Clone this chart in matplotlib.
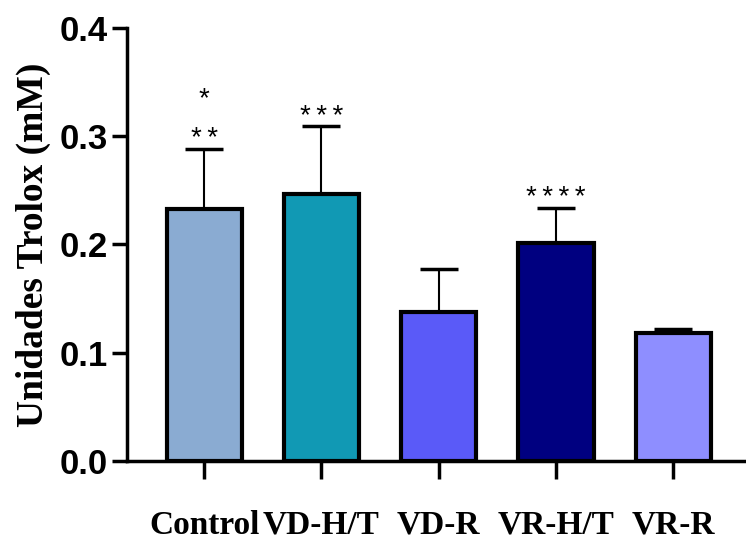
import matplotlib.pyplot as plt

# Datos
grupos = ['Control', 'VD-H/T', 'VD-R', 'VR-H/T', 'VR-R']
medias = [0.233, 0.247, 0.138, 0.201, 0.118]
errores = [0.055, 0.062, 0.039, 0.033, 0.004]
colores = ['#8AABD2', '#1199B4', '#5A5AF8', '#000080', '#8E8EFF']
# Significancia (de abajo hacia arriba)
marcas = [['**', '*'], ['***'], [], ['****'], []]

fig = plt.figure(figsize=(7.46, 5.44), dpi=100)
ax = fig.add_axes([0.170, 0.1526, 0.83, 0.796])

x = range(len(grupos))
ax.bar(x, medias, width=0.64, color=colores, edgecolor='black', linewidth=3, zorder=2)
ax.errorbar(x, medias, yerr=[[0] * len(errores), errores], fmt='none',
            ecolor='black', elinewidth=1.5, capsize=14, capthick=2.5, zorder=1)

# Asteriscos
for i, lst in enumerate(marcas):
    for k, m in enumerate(lst):
        ax.annotate('\u2009'.join(m), (i, medias[i] + errores[i]), xytext=(0, 7 + 29 * k),
                    textcoords='offset points', ha='center', va='center',
                    fontsize=20, family='Liberation Sans')

ax.set_xlim(-0.66, 4.62)
ax.set_ylim(0, 0.4)
ax.set_yticks([0.0, 0.1, 0.2, 0.3, 0.4])
ax.set_yticklabels(['0.0', '0.1', '0.2', '0.3', '0.4'],
                   fontsize=25, fontweight='bold', family='Liberation Sans')
ax.set_xticks(list(x))
ax.set_xticklabels(grupos, fontsize=24, fontweight='bold', family='Liberation Serif')
ax.tick_params(axis='x', length=13, width=2.5, pad=22)
ax.tick_params(axis='y', length=11, width=2.5, pad=3)

ax.spines['top'].set_visible(False)
ax.spines['right'].set_visible(False)
ax.spines['left'].set_linewidth(2.5)
ax.spines['bottom'].set_linewidth(2.5)

ax.set_ylabel('Unidades Trolox (mM)', fontsize=27, fontweight='bold',
              family='Liberation Serif', labelpad=6)

fig.savefig('out.png', dpi=100)
